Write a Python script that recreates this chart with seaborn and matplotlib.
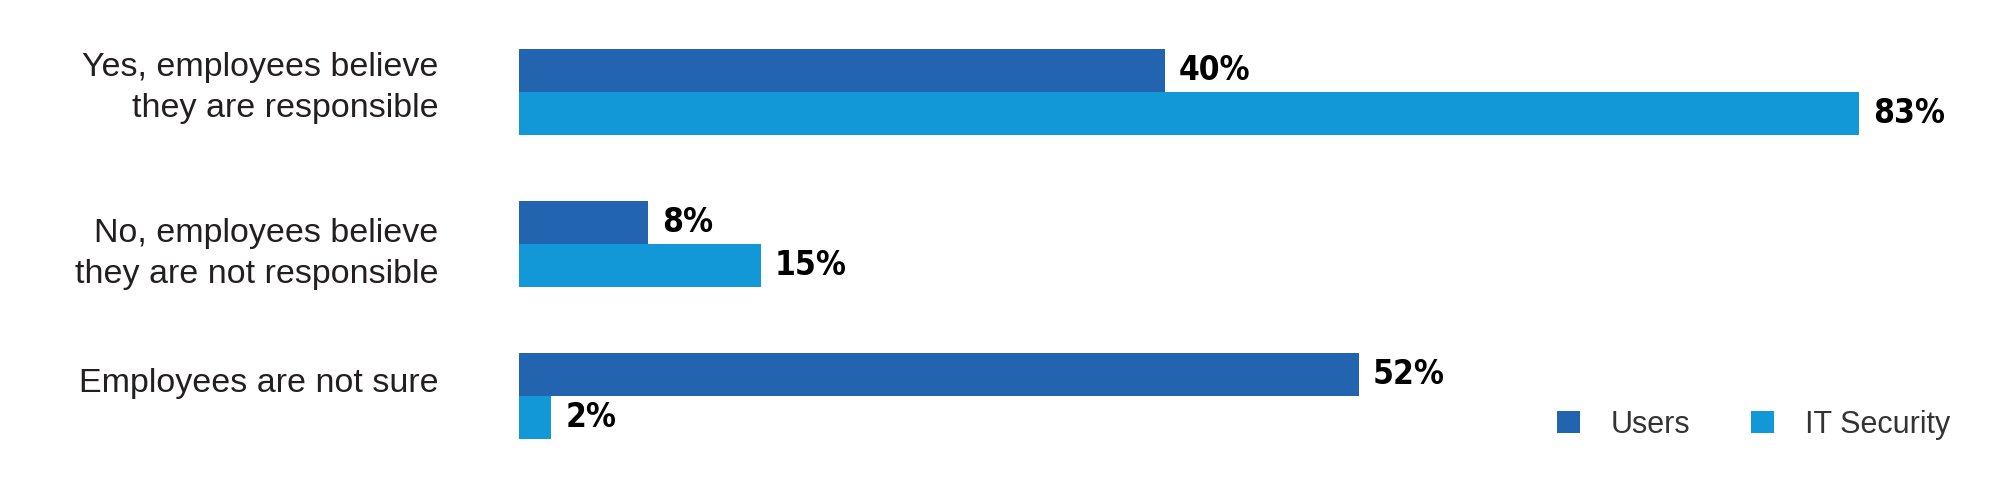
import pandas as pd
import matplotlib.pyplot as plt
import seaborn as sns

sns.set_theme(style="white")
plt.rcParams['font.family'] = ['Liberation Sans', 'DejaVu Sans']

# --- data ---
categories = [
    "Yes, employees believe\nthey are responsible",
    "No, employees believe\nthey are not responsible",
    "Employees are not sure",
]
users = [40, 8, 52]
it_security = [83, 15, 2]
groups = ["Users", "IT Security"]
colors = ["#2264B0", "#1298D6"]

df = pd.DataFrame({
    "category": categories * 2,
    "value": users + it_security,
    "group": [groups[0]] * len(categories) + [groups[1]] * len(categories),
})

fig = plt.figure(figsize=(20, 4.98), dpi=100)
ax = fig.add_axes([0.2595, 0, 0.7265, 1])

sns.barplot(data=df, x="value", y="category", hue="group", palette=colors,
            width=0.566, orient="h", linewidth=0, saturation=1, ax=ax)

for cont in ax.containers:
    ax.bar_label(cont, fmt="%g%%", padding=10, fontsize=24, fontweight="bold",
                 fontstretch="condensed", family=["DejaVu Sans"], color="black")

ax.set_xlim(0, 90)
ax.set_ylim(2.671, -0.605)
ax.set_xlabel("")
ax.set_ylabel("")
ax.set_xticks([])
ax.set_yticks(range(len(categories)))
ax.set_yticklabels([])
ax.tick_params(axis="y", length=0)

# category labels, nudged a little like in the original
nudge = [3, -7, 9]
for i, (txt, dy) in enumerate(zip(categories, nudge)):
    ax.annotate(txt, xy=(0, i), xycoords=("axes fraction", "data"),
                xytext=(-58, dy), textcoords="offset points",
                ha="right", va="center", fontsize=24.5, color="#231F20",
                linespacing=1.4)

for s in ax.spines.values():
    s.set_visible(False)

ax.legend(loc="center right", bbox_to_anchor=(0.975, 0.147), bbox_transform=fig.transFigure,
          ncol=2, frameon=False, fontsize=22, handlelength=0.75, handleheight=0.75,
          handletextpad=1.0, columnspacing=2.0, borderpad=0, borderaxespad=0,
          labelcolor="#333333")

fig.savefig("out.png", dpi=100)
